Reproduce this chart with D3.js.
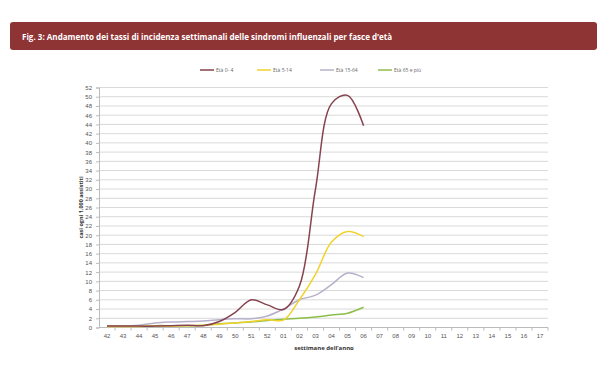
<!DOCTYPE html>
<html>
<head>
<meta charset="utf-8">
<script src="https://cdn.jsdelivr.net/npm/d3@7"></script>
<style>
    body { margin: 0; background: #fff; }
    svg { display: block; font-family: "Open Sans", "Liberation Sans", sans-serif; }
    .grid line { stroke: #d9d9d9; stroke-width: 1; }
    .axis text { fill: #555; font-size: 6px; }
    .axis path, .axis line { stroke: #bbb; }
    .series { fill: none; stroke-width: 1.5; }
    .legend-text { fill: #666; font-size: 5px; }
</style>
</head>
<body>
<svg width="607" height="373"></svg>
<script>
// Weeks of the season (x categories)
var weeks = ["42", "43", "44", "45", "46", "47", "48", "49", "50", "51", "52",
    "01", "02", "03", "04", "05", "06", "07", "08", "09", "10", "11", "12",
    "13", "14", "15", "16", "17"];

// Incidence per 1,000 per age group (weeks 42 .. 06)
var age0_4   = [0.3, 0.3, 0.3, 0.3, 0.4, 0.5, 0.4, 1.3, 3.3, 6.0, 4.9, 3.9, 9.0, 30.0, 48.5, 50.3, 43.7];
var age5_14  = [0.2, 0.2, 0.2, 0.3, 0.3, 0.4, 0.5, 0.7, 1.0, 1.3, 1.7, 1.6, 6.0, 11.5, 18.5, 20.8, 19.7];
var age15_64 = [0.3, 0.3, 0.5, 1.0, 1.2, 1.3, 1.4, 1.7, 1.9, 1.9, 2.5, 4.0, 6.0, 7.0, 9.3, 11.8, 10.8];
var age65    = [0.3, 0.3, 0.3, 0.4, 0.4, 0.4, 0.5, 0.8, 1.0, 1.2, 1.5, 1.8, 2.0, 2.3, 2.7, 3.1, 4.4];

var yTicks = d3.range(0, 53, 2);

var series = [
    { label: "Età 0- 4", values: age0_4, color: "#86424f" },
    { label: "Età 5-14", values: age5_14, color: "#f0d22c" },
    { label: "Età 15-64", values: age15_64, color: "#b7b0cb" },
    { label: "Età 65 e più", values: age65, color: "#8cbe48" }
];

function drawChart() {
    var svg = d3.select("svg");

    // Title bar
    svg.append("rect")
        .attr("x", 10).attr("y", 22)
        .attr("width", 587).attr("height", 28)
        .attr("rx", 3)
        .attr("fill", "#8f3434");
    svg.append("text")
        .attr("x", 22).attr("y", 39.5)
        .attr("fill", "#fff")
        .attr("font-size", 8.5)
        .attr("font-weight", "bold")
        .attr("textLength", 370)
        .attr("lengthAdjust", "spacingAndGlyphs")
        .text("Fig. 3: Andamento dei tassi di incidenza settimanali delle sindromi influenzali per fasce d’età");

    // Plot area
    var x0 = 99, x1 = 548, yTop = 87.5, yBottom = 327.5;

    var xScale = d3.scaleBand().domain(weeks).range([x0, x1]);
    var yScale = d3.scaleLinear().domain([0, 52]).range([yBottom, yTop]);

    // Grid lines
    svg.append("g")
        .attr("class", "grid")
        .selectAll("line")
        .data(yTicks.filter(function (d) { return d > 0; }))
        .enter()
        .append("line")
        .attr("x1", x0).attr("x2", x1)
        .attr("y1", function (d) { return yScale(d); })
        .attr("y2", function (d) { return yScale(d); });

    // Y axis
    svg.append("g")
        .attr("class", "axis")
        .attr("transform", "translate(" + x0 + ",0)")
        .call(d3.axisLeft(yScale).tickValues(yTicks).tickSize(3).tickPadding(4));

    // X axis, ticks between categories
    var xAxis = svg.append("g")
        .attr("class", "axis")
        .attr("transform", "translate(0," + yBottom + ")")
        .call(d3.axisBottom(xScale).tickSize(0).tickPadding(6));
    xAxis.select(".domain").attr("d", "M" + x0 + ",0H" + x1);
    xAxis.selectAll(".sep")
        .data(weeks)
        .enter()
        .append("line")
        .attr("class", "sep")
        .attr("x1", function (d) { return xScale(d) + xScale.bandwidth(); })
        .attr("x2", function (d) { return xScale(d) + xScale.bandwidth(); })
        .attr("y1", 0).attr("y2", 3);

    // Axis titles
    svg.append("text")
        .attr("transform", "translate(83," + ((yTop + yBottom) / 2) + ") rotate(-90)")
        .attr("text-anchor", "middle")
        .attr("font-size", 5.5)
        .attr("font-weight", "bold")
        .attr("fill", "#333")
        .text("casi ogni 1.000 assistiti");
    svg.append("text")
        .attr("x", 324).attr("y", 350)
        .attr("text-anchor", "middle")
        .attr("font-size", 6)
        .attr("font-weight", "bold")
        .attr("fill", "#333")
        .text("settimane dell’anno");

    // Series lines
    var line = d3.line()
        .x(function (d, i) { return xScale(weeks[i]) + xScale.bandwidth() / 2; })
        .y(function (d) { return yScale(d); })
        .curve(d3.curveCatmullRom.alpha(0.5));

    series.slice().reverse().forEach(function (s) {
        svg.append("path")
            .datum(s.values)
            .attr("class", "series")
            .attr("stroke", s.color)
            .attr("d", line);
    });

    // Legend
    var legendX = [200, 257, 320, 378];
    series.forEach(function (s, i) {
        svg.append("line")
            .attr("x1", legendX[i]).attr("x2", legendX[i] + 14)
            .attr("y1", 70).attr("y2", 70)
            .attr("stroke", s.color)
            .attr("stroke-width", 1.5);
        svg.append("text")
            .attr("class", "legend-text")
            .attr("x", legendX[i] + 16)
            .attr("y", 72)
            .text(s.label);
    });
}

drawChart();
</script>
</body>
</html>
